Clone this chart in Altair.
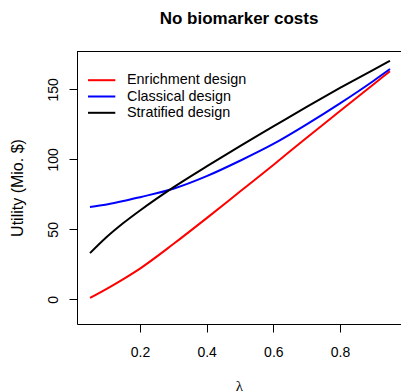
import altair as alt
import pandas as pd

lam = [0.05, 0.1, 0.15, 0.2, 0.3, 0.4, 0.5, 0.6, 0.7, 0.8, 0.9, 0.95]
enrichment = [1.0, 7.5, 14.5, 22.0, 39.5, 58.0, 77.0, 96.0, 115.5, 134.5, 153.5, 163.0]
classical = [66.0, 67.8, 70.2, 73.0, 79.0, 88.0, 99.0, 111.0, 125.0, 140.0, 156.0, 164.5]
stratified = [33.0, 44.5, 54.5, 63.5, 80.0, 95.0, 109.5, 123.5, 137.5, 151.0, 164.0, 170.4]

names = ["Enrichment design", "Classical design", "Stratified design"]
colors = ["#FF0000", "#0000FF", "#000000"]
x_ticks = [0.2, 0.4, 0.6, 0.8]
y_ticks = [0, 50, 100, 150]

rows = []
for name, vals in zip(names, [enrichment, classical, stratified]):
    for l, v in zip(lam, vals):
        rows.append({"lambda": l, "utility": v, "series": name})
df = pd.DataFrame(rows)
leg = pd.DataFrame({"series": names})

FONT = "Liberation Sans"
W, H = 324, 273

color = alt.Color("series:N", scale=alt.Scale(domain=names, range=colors), legend=None)

lines = alt.Chart(df).mark_line(strokeWidth=2, interpolate="monotone", clip=True).encode(
    x=alt.X("lambda:Q",
            scale=alt.Scale(domain=[0.011, 0.983], nice=False, zero=False),
            axis=alt.Axis(values=x_ticks, format=".1f", tickSize=8, labelPadding=24,
                          labelBaseline="alphabetic", labelFontSize=14, labelFont=FONT,
                          labelColor="black", tickColor="black", domainColor="black",
                          grid=False, title="λ", titleFont="Liberation Serif",
                          titleFontSize=15, titleFontWeight="normal", titleColor="black",
                          titleBaseline="alphabetic", titleY=66, labelFlush=False)),
    y=alt.Y("utility:Q",
            scale=alt.Scale(domain=[-17.6, 177.4], nice=False, zero=False),
            axis=alt.Axis(values=y_ticks, tickSize=8, labelPadding=12, labelAngle=270,
                          labelAlign="center", labelBaseline="alphabetic",
                          labelFontSize=14, labelFont=FONT, labelColor="black",
                          tickColor="black", domainColor="black", grid=False,
                          title="Utility (Mio. $)", titleFont=FONT, titleFontSize=16,
                          titleFontWeight="normal", titleColor="black", titleAngle=270,
                          titleAlign="center", titleBaseline="alphabetic",
                          titleX=-55, titleY=136.5, labelFlush=False)),
    color=color,
)

top_line = alt.Chart(leg).mark_rule(color="black", strokeWidth=1).encode(
    x=alt.value(0), x2=alt.value(W + 5), y=alt.value(0.5)
)

leg_y = alt.Y("series:N", scale=alt.Scale(type="point", domain=names, range=[29.2, 61.8], padding=0), axis=None)

leg_lines = alt.Chart(leg).mark_rule(strokeWidth=2).encode(
    x=alt.value(11), x2=alt.value(38.3), y=leg_y, color=color
)
leg_text = alt.Chart(leg).mark_text(align="left", baseline="middle", fontSize=14.4, font=FONT, color="black").encode(
    x=alt.value(50), y=leg_y, text="series:N"
)

chart = alt.layer(lines, top_line, leg_lines, leg_text).resolve_scale(y="independent").properties(
    width=W, height=H,
    title=alt.TitleParams("No biomarker costs", font=FONT, fontSize=17, fontWeight="bold",
                          color="black", anchor="middle", baseline="alphabetic",
                          offset=10, frame="group"),
    autosize=alt.AutoSizeParams(type="none"),
    padding={"left": 77, "top": 51, "right": 0, "bottom": 68},
).configure_view(stroke=None).configure(background="white")

chart.save("out.html", embed_options={"renderer": "svg", "actions": False})
